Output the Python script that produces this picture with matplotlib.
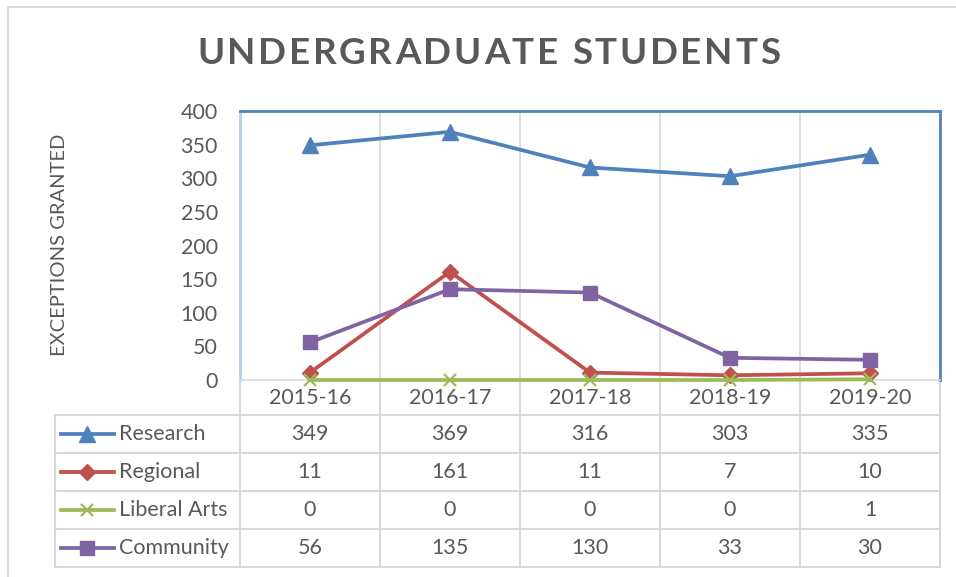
import matplotlib
matplotlib.use("Agg")
import matplotlib.pyplot as plt
from matplotlib.lines import Line2D

plt.rcParams['font.family'] = ['Lato', 'DejaVu Sans']

# ---- data ----
categories = ["2015-16", "2016-17", "2017-18", "2018-19", "2019-20"]
series_names = ["Research", "Regional", "Liberal Arts", "Community"]
research = [349, 369, 316, 303, 335]
regional = [11, 161, 11, 7, 10]
liberal_arts = [0, 0, 0, 0, 1]
community = [56, 135, 130, 33, 30]
yticks = [0, 50, 100, 150, 200, 250, 300, 350, 400]
title = "UNDERGRADUATE STUDENTS"
ylabel = "EXCEPTIONS GRANTED"

series = [research, regional, liberal_arts, community]
colors = ["#4F81BD", "#C0504D", "#9BBB59", "#8064A2"]
markers = ["^", "D", "x", "s"]
msizes = [11, 8, 9, 10]

W, H = 956, 577
fig = plt.figure(figsize=(W / 100, H / 100), dpi=100)
fig.patch.set_facecolor("white")

GRID = "#D9D9D9"
TXT = "#595959"
FS = 15.5

# overlay axes in pixel coordinates for borders / table
ov = fig.add_axes([0, 0, 1, 1], zorder=0)
ov.set_xlim(0, W)
ov.set_ylim(H, 0)
ov.axis("off")

# outer chart border
ov.plot([8.5, 8.5, W + 5], [H + 5, 6.5, 6.5], color=GRID, lw=1.5, solid_capstyle="butt")

# plot area
L, R, T, B = 240, 940, 111, 380
ax = fig.add_axes([L / W, 1 - B / H, (R - L) / W, (B - T) / H], zorder=2)
ax.patch.set_alpha(0)
n = len(categories)
x = list(range(n))
ax.set_xlim(-0.5, n - 0.5)
ax.set_ylim(0, 400)
ax.set_yticks(yticks)
ax.set_yticklabels([str(v) for v in yticks], fontsize=FS, color=TXT)
ax.tick_params(axis="y", length=0, pad=16)
ax.set_xticks([])
for xv in [i + 0.5 for i in range(n - 1)]:
    ax.axvline(xv, color=GRID, lw=1.2, zorder=0)
ax.spines["top"].set_color("#4F81BD")
ax.spines["right"].set_color("#4F81BD")
ax.spines["top"].set_linewidth(2)
ax.spines["right"].set_linewidth(2)
ax.spines["left"].set_color("#B9CDE5")
ax.spines["left"].set_linewidth(2)
ax.spines["bottom"].set_color(GRID)
ax.spines["bottom"].set_linewidth(1.2)

for vals, c, m, ms in zip(series, colors, markers, msizes):
    ax.plot(x, vals, color=c, lw=2.7, marker=m, markersize=ms,
            markerfacecolor=c, markeredgecolor=c,
            markeredgewidth=1.6 if m == "x" else 1, clip_on=False, zorder=3)

ov.text(60, 245, ylabel, rotation=90, ha="center", va="center",
        fontsize=14.5, color=TXT)

# data table
col_w = (R - L) / n
rows_y = [380, 415, 453, 491, 529, 567]
LEG_L = 55
for i in range(n + 1):
    xx = L + i * col_w
    ov.plot([xx, xx], [rows_y[0], rows_y[-1]], color=GRID, lw=1.5, zorder=1)
ov.plot([LEG_L, LEG_L], [rows_y[1], rows_y[-1]], color=GRID, lw=1.5)
for yy in rows_y[1:]:
    ov.plot([LEG_L, R], [yy, yy], color=GRID, lw=1.5)

for i, cat in enumerate(categories):
    ov.text(L + (i + 0.5) * col_w, (rows_y[0] + rows_y[1]) / 2 + 1, cat,
            ha="center", va="center", fontsize=FS, color=TXT)

for r, (name, vals, c, m, ms) in enumerate(zip(series_names, series, colors, markers, msizes)):
    yc = (rows_y[r + 1] + rows_y[r + 2]) / 2
    ov.add_line(Line2D([61, 114], [yc, yc], color=c, lw=2.7))
    ov.add_line(Line2D([87.5], [yc], color=c, marker=m, markersize=ms,
                       markerfacecolor=c, markeredgecolor=c,
                       markeredgewidth=1.6 if m == "x" else 1))
    ov.text(119, yc, name, ha="left", va="center", fontsize=FS, color=TXT)
    for i, v in enumerate(vals):
        ov.text(L + (i + 0.5) * col_w, yc, str(v), ha="center", va="center",
                fontsize=FS, color=TXT)

# letter-spaced title
renderer = fig.canvas.get_renderer()
fs = 26.5
x0, x1, ty = 197, 780, 54
def width_of(s):
    t = ov.text(0, 0, s, fontsize=fs, fontweight="bold")
    w = t.get_window_extent(renderer).width
    t.remove()
    return w
natural = width_of(title.replace(" ", "\u00a0"))
extra = (x1 - x0 - natural) / (len(title) - 1)
for i, ch in enumerate(title):
    pre = title[:i].replace(" ", "\u00a0")
    offs = width_of(pre) if pre else 0
    ov.text(x0 + offs + i * extra, ty, ch, fontsize=fs, fontweight="bold",
            color=TXT, ha="left", va="center")

fig.savefig("out.png", dpi=100)
